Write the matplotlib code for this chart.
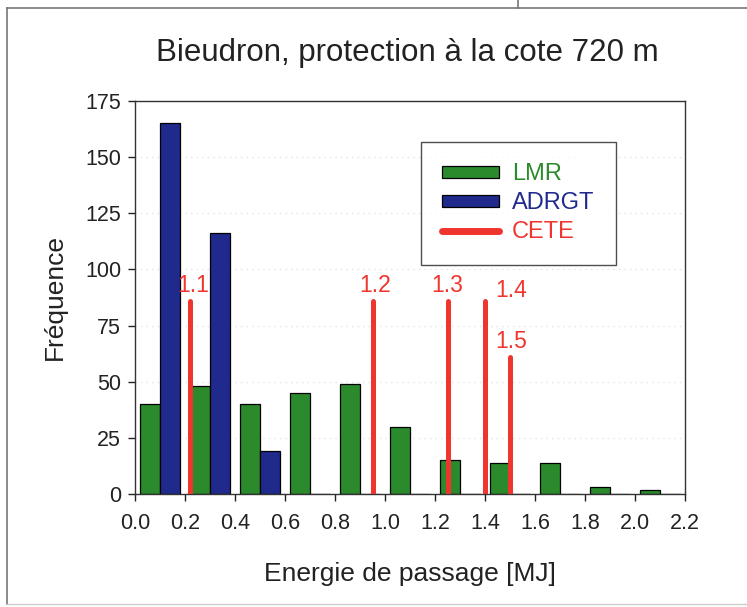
import matplotlib
matplotlib.use("Agg")
import matplotlib.pyplot as plt
import numpy as np
from matplotlib.patches import Patch
from matplotlib.lines import Line2D

plt.rcParams['font.family'] = ['Liberation Sans', 'DejaVu Sans']

# ---- data ----
bin_centers = [0.1, 0.3, 0.5, 0.7, 0.9, 1.1, 1.3, 1.5, 1.7, 1.9, 2.1]
lmr = [40, 48, 40, 45, 49, 30, 15, 14, 14, 3, 2]
adrgt = [165, 116, 19, 0, 0, 0, 0, 0, 0, 0, 0]
cete_x = [0.22, 0.95, 1.25, 1.40, 1.50]
cete_h = [86, 86, 86, 86, 61]
cete_labels = ['1.1', '1.2', '1.3', '1.4', '1.5']
xticks = [0.0, 0.2, 0.4, 0.6, 0.8, 1.0, 1.2, 1.4, 1.6, 1.8, 2.0, 2.2]
yticks = [0, 25, 50, 75, 100, 125, 150, 175]

# ---- style ----
GREEN = '#2b8a2b'
BLUE = '#1f2a8c'
RED = '#f0352f'
bar_w = 0.08
label_offsets = [(2, 3), (2, 3), (0, 3), (19, -1), (1, 3)]  # points

fig = plt.figure(figsize=(7.47, 6.07), dpi=100)
ax = fig.add_axes([135/747, 1-494/607, 550/747, (494-101)/607])

bc = np.array(bin_centers)
ax.bar(bc - bar_w/2, lmr, width=bar_w, color=GREEN, edgecolor='black', linewidth=0.9, zorder=2)
ax.bar(bc + bar_w/2, adrgt, width=bar_w, color=BLUE, edgecolor='black', linewidth=0.9, zorder=2)

for x, h, lab, off in zip(cete_x, cete_h, cete_labels, label_offsets):
    ax.plot([x, x], [0, h], color=RED, lw=3.6, solid_capstyle='round', zorder=3)
    ax.annotate(lab, (x, h), xytext=off, textcoords='offset points',
                ha='center', va='bottom', color=RED, fontsize=16.5)

ax.set_xlim(0, 2.2)
ax.set_ylim(0, 175)
ax.set_xticks(xticks)
ax.set_xticklabels([f'{t:.1f}' for t in xticks])
ax.set_yticks(yticks)
ax.tick_params(direction='out', length=5, width=1, labelsize=15.5, colors='#222222')
ax.tick_params(axis='x', pad=9)
ax.tick_params(axis='y', pad=5)
ax.yaxis.grid(True, color='#e4e4e4', linestyle=(0, (1, 3)), lw=1, zorder=0)
for s in ax.spines.values():
    s.set_color('#333333')
    s.set_linewidth(1)

ax.set_xlabel('Energie de passage [MJ]', fontsize=19, labelpad=20, color='#222222')
ax.set_ylabel('Fréquence', fontsize=19, labelpad=13, color='#222222')
fig.text(407/747, 1-53/607, 'Bieudron, protection à la cote 720 m',
         ha='center', va='center', fontsize=22.5, color='#222222')

handles = [Patch(facecolor=GREEN, edgecolor='black', linewidth=0.9),
           Patch(facecolor=BLUE, edgecolor='black', linewidth=0.9),
           Line2D([0], [0], color=RED, lw=5, solid_capstyle='round')]
leg = ax.legend(handles, ['LMR', 'ADRGT', 'CETE'], loc='upper left',
                bbox_to_anchor=((421-135)/550, (494-142)/393),
                fontsize=17, frameon=True, fancybox=False, edgecolor='#222222',
                handlelength=2.4, handleheight=0.42, handletextpad=0.55,
                labelspacing=0.3, borderpad=0.9, borderaxespad=0)
leg.get_frame().set_linewidth(1)
for t, c in zip(leg.get_texts(), [GREEN, BLUE, RED]):
    t.set_color(c)

# outer frame of the scanned figure
fc = '#777777'
fig.add_artist(Line2D([7/747, 7/747], [1-8/607, 1-604/607], color=fc, lw=1.2, transform=fig.transFigure))
fig.add_artist(Line2D([7/747, 1], [1-8/607, 1-8/607], color=fc, lw=1.2, transform=fig.transFigure))
fig.add_artist(Line2D([7/747, 1], [1-604/607, 1-604/607], color='#cccccc', lw=1, transform=fig.transFigure))
fig.add_artist(Line2D([518/747, 518/747], [1, 1-8/607], color=fc, lw=1.2, transform=fig.transFigure))

fig.savefig('out.png', dpi=100)
